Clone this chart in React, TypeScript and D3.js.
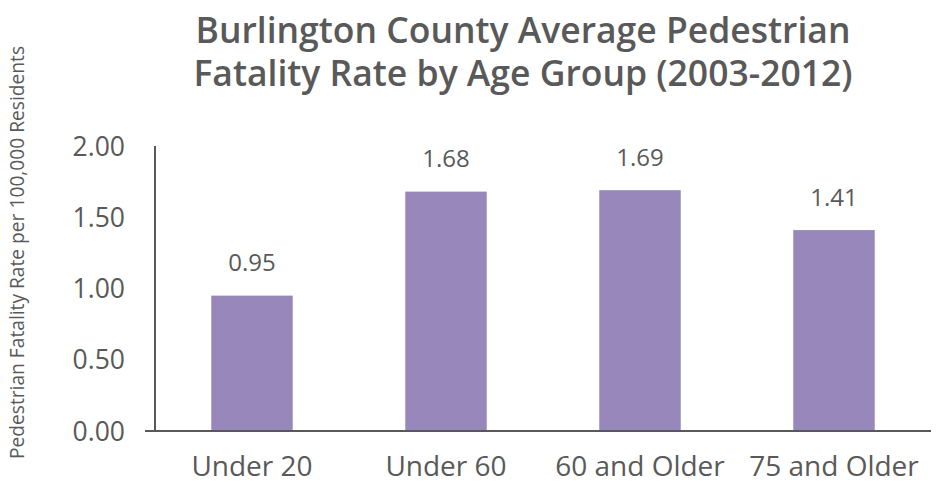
import React from "react";
import * as d3 from "d3";

// chart data
const categories = ["Under 20", "Under 60", "60 and Older", "75 and Older"];
const rates = [0.95, 1.68, 1.69, 1.41];
const yTicks = [0, 0.5, 1, 1.5, 2];
const titleLines = [
  "Burlington County Average Pedestrian",
  "Fatality Rate by Age Group (2003-2012)",
];
const yTitle = "Pedestrian Fatality Rate per 100,000 Residents";

const width = 939;
const height = 483;
const margin = { top: 146, bottom: 52, left: 155, right: 8 };
const textColor = "#595959";
const barColor = "#9887BA";
const font = "'Open Sans', sans-serif";

export default function App() {
  const innerBottom = height - margin.bottom;

  const xScale = d3
    .scaleBand<string>()
    .domain(categories)
    .range([margin.left, width - margin.right])
    .paddingInner(0.58)
    .paddingOuter(0.29);

  const yScale = d3.scaleLinear().domain([0, 2]).range([innerBottom, margin.top]);

  const fmt = d3.format(".2f");

  return (
    <svg
      width={width}
      height={height}
      style={{ position: "absolute", left: 0, top: 0, background: "#fff" }}
      fontFamily={font}
    >
      {/* title, one text with a tspan per line */}
      <text fill={textColor} fontWeight={600} fontSize={35.5} textAnchor="middle" y={43}>
        {titleLines.map((t, i) => (
          <tspan key={t} x={523} dy={i === 0 ? 0 : 42.5}>
            {t}
          </tspan>
        ))}
      </text>

      {/* y axis title */}
      <text
        transform={`translate(24,${(margin.top + innerBottom) / 2 - 36}) rotate(-90)`}
        textAnchor="middle"
        fontSize={19.2}
        fill={textColor}
      >
        {yTitle}
      </text>

      {/* y tick labels */}
      <g fontSize={26.5} fill={textColor} textAnchor="end">
        {yTicks.map((t) => (
          <text key={t} x={margin.left - 30} y={yScale(t) + 9.5}>
            {fmt(t)}
          </text>
        ))}
      </g>

      {/* bars */}
      {categories.map((c, i) => (
        <rect
          key={c}
          x={xScale(c)}
          y={yScale(rates[i])}
          width={xScale.bandwidth()}
          height={innerBottom - yScale(rates[i])}
          fill={barColor}
        />
      ))}

      {/* value labels */}
      <g fontSize={24} fill={textColor} textAnchor="middle">
        {categories.map((c, i) => (
          <text
            key={c}
            x={(xScale(c) ?? 0) + xScale.bandwidth() / 2}
            y={yScale(rates[i]) - 24.5}
          >
            {fmt(rates[i])}
          </text>
        ))}
      </g>

      {/* axes */}
      <line
        x1={margin.left}
        x2={margin.left}
        y1={margin.top}
        y2={innerBottom}
        stroke={textColor}
        strokeWidth={2}
      />
      <line
        x1={margin.left - 10}
        x2={width - margin.right}
        y1={innerBottom}
        y2={innerBottom}
        stroke={textColor}
        strokeWidth={2}
      />

      {/* category labels */}
      <g fontSize={28} fill={textColor} textAnchor="middle">
        {categories.map((c) => (
          <text key={c} x={(xScale(c) ?? 0) + xScale.bandwidth() / 2} y={476}>
            {c}
          </text>
        ))}
      </g>
    </svg>
  );
}
